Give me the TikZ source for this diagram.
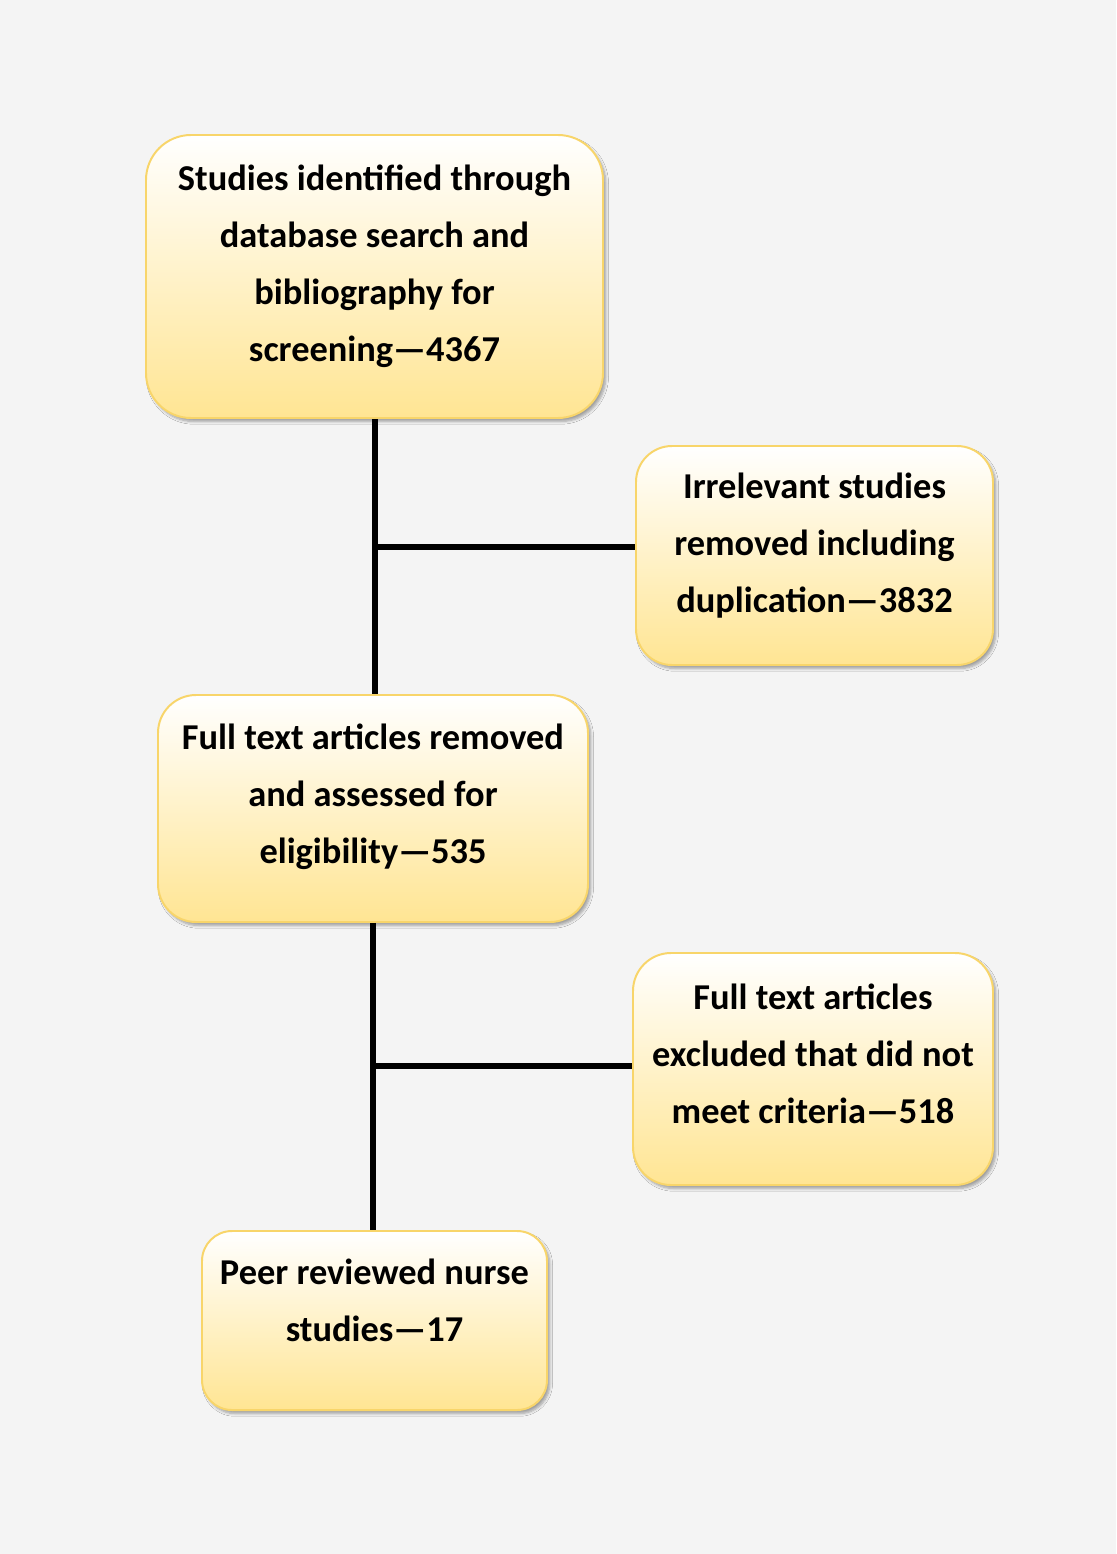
\documentclass[tikz,border=0pt]{standalone}
\usepackage{fontspec}
\setmainfont{Carlito}
\usepackage{tikz}
\usetikzlibrary{shadows.blur}

\definecolor{pagegray}{HTML}{F4F4F4}
\definecolor{boxyellow}{HTML}{FFE593}
\definecolor{boxedge}{HTML}{F8D56A}

\tikzset{
  flowbox/.style={draw=boxedge, line width=1.4pt, top color=white, bottom color=boxyellow,
    blur shadow={shadow xshift=2pt, shadow yshift=-2.5pt, shadow blur steps=6, shadow opacity=35}},
  flowtext/.style={align=center, font=\bfseries\fontsize{25.9}{40.5}\selectfont},
  link/.style={line width=4.6pt}
}

\begin{document}
\begin{tikzpicture}
    \fill[pagegray] (0,0) rectangle (27.9,-38.85);
    \useasboundingbox (0,0) rectangle (27.9,-38.85);

    % boxes
    \node[flowbox, minimum width=11.425cm, minimum height=7.075cm, rounded corners=1.125cm] (ident) at (9.3625,-6.9125) {};
    \node[flowbox, minimum width=8.925cm, minimum height=5.475cm, rounded corners=0.9cm] (irrel) at (20.3625,-13.8875) {};
    \node[flowbox, minimum width=10.75cm, minimum height=5.675cm, rounded corners=0.95cm] (elig) at (9.325,-20.2125) {};
    \node[flowbox, minimum width=9cm, minimum height=5.8cm, rounded corners=0.95cm] (excl) at (20.325,-26.725) {};
    \node[flowbox, minimum width=8.625cm, minimum height=4.475cm, rounded corners=0.75cm] (peer) at (9.3625,-33.0125) {};

    % texts
    \node[flowtext] (identtext) at ([yshift=0.25cm]ident.center) {Studies identified through\\database search and\\bibliography for\\screening---4367};
    \node[flowtext] (irreltext) at ([yshift=0.25cm]irrel.center) {Irrelevant studies\\removed including\\duplication---3832};
    \node[flowtext] (eligtext) at ([yshift=0.3cm]elig.center) {Full text articles removed\\and assessed for\\eligibility---535};
    \node[flowtext] (excltext) at ([yshift=0.375cm]excl.center) {Full text articles\\excluded that did not\\meet criteria---518};
    \node[flowtext] (peertext) at ([yshift=0.5cm]peer.center) {Peer reviewed nurse\\studies---17};

    % connectors
    \coordinate (split1) at (9.375,-13.675);
    \coordinate (split2) at (9.325,-26.65);
    \draw[link] (ident.south -| split1) -- (elig.north -| split1);
    \draw[link] (split1) -- (split1 -| irrel.west);
    \draw[link] (elig.south -| split2) -- (peer.north -| split2);
    \draw[link] (split2) -- (split2 -| excl.west);
\end{tikzpicture}
\end{document}
